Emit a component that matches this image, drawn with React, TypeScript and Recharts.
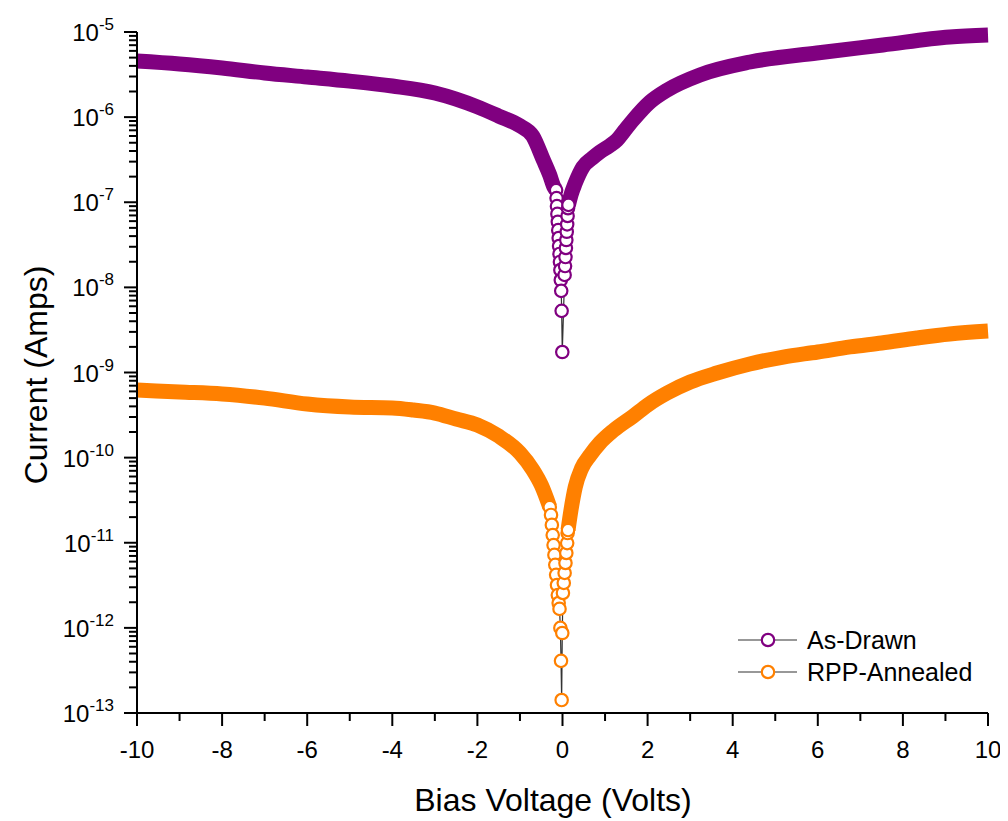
import { ComposedChart, Line, XAxis, YAxis } from "recharts";

const PURPLE = "#800080";
const ORANGE = "#ff8000";
const FONT = "'Liberation Sans', Arial, sans-serif";

// As-Drawn: negative branch, dip around 0 V, positive branch
const drawnLeftV = [-10, -9, -8, -7, -6, -5, -4, -3, -2, -1.5, -1, -0.7, -0.45, -0.3, -0.2, -0.15];
const drawnLeftI = [4.56e-6, 4.21e-6, 3.77e-6, 3.3e-6, 2.96e-6, 2.65e-6, 2.32e-6, 1.92e-6, 1.32e-6, 1.03e-6, 7.9e-7, 6.0e-7, 3.13e-7, 2.09e-7, 1.51e-7, 1.39e-7];
const drawnTipV = [-0.15, -0.14, -0.13, -0.12, -0.11, -0.1, -0.09, -0.08, -0.07, -0.06, -0.05, -0.04, -0.03, -0.02, -0.005, 0.05, 0.06, 0.07, 0.08, 0.09, 0.1, 0.11, 0.12, 0.13, 0.14];
const drawnTipI = [1.39e-7, 1.12e-7, 9.0e-8, 7.3e-8, 5.9e-8, 4.7e-8, 3.8e-8, 3.06e-8, 2.47e-8, 1.99e-8, 1.6e-8, 1.22e-8, 9.1e-9, 5.3e-9, 1.74e-9, 1.4e-8, 1.78e-8, 2.27e-8, 2.9e-8, 3.6e-8, 4.5e-8, 5.5e-8, 6.9e-8, 8.5e-8, 9.3e-8];
const drawnRightV = [0.14, 0.2, 0.3, 0.48, 0.7, 0.88, 1.1, 1.28, 1.45, 1.66, 2.06, 2.46, 3.23, 4.41, 5.98, 7.53, 9.1, 10];
const drawnRightI = [9.3e-8, 1.22e-7, 1.68e-7, 2.6e-7, 3.3e-7, 3.9e-7, 4.58e-7, 5.39e-7, 6.87e-7, 9.25e-7, 1.51e-6, 2.08e-6, 3.13e-6, 4.44e-6, 5.67e-6, 7.03e-6, 8.73e-6, 9.2e-6];

// RPP-Annealed
const annealLeftV = [-10, -9, -8, -7, -6, -5, -4, -3.5, -3, -2.5, -2, -1.5, -1, -0.7, -0.5, -0.3];
const annealLeftI = [6.22e-10, 5.9e-10, 5.6e-10, 5.0e-10, 4.26e-10, 3.93e-10, 3.83e-10, 3.62e-10, 3.34e-10, 2.84e-10, 2.42e-10, 1.79e-10, 1.13e-10, 7.2e-11, 4.77e-11, 2.63e-11];
const annealTipV = [-0.3, -0.27, -0.25, -0.23, -0.21, -0.19, -0.17, -0.15, -0.13, -0.11, -0.09, -0.07, -0.05, -0.035, -0.02, -0.005, 0.01, 0.03, 0.05, 0.07, 0.09, 0.11, 0.12, 0.13];
const annealTipI = [2.63e-11, 2.12e-11, 1.62e-11, 1.23e-11, 9.4e-12, 7.2e-12, 5.5e-12, 4.2e-12, 3.19e-12, 2.43e-12, 1.96e-12, 1.67e-12, 1.0e-12, 4.1e-13, 1.42e-13, 8.7e-13, 2.57e-12, 3.37e-12, 4.42e-12, 5.78e-12, 7.58e-12, 9.9e-12, 1.3e-11, 1.41e-11];
const annealRightV = [0.13, 0.2, 0.3, 0.45, 0.65, 0.88, 1.2, 1.66, 2, 2.46, 3, 3.63, 4.4, 5.19, 6, 6.76, 7.5, 8.33, 9.1, 10];
const annealRightI = [1.41e-11, 2.43e-11, 4.52e-11, 7.5e-11, 1.07e-10, 1.49e-10, 2.09e-10, 3.07e-10, 4.15e-10, 5.74e-10, 7.73e-10, 9.86e-10, 1.26e-9, 1.52e-9, 1.74e-9, 2.0e-9, 2.22e-9, 2.54e-9, 2.83e-9, 3.07e-9];

const voltTicks = [-10, -9, -8, -7, -6, -5, -4, -3, -2, -1, 0, 1, 2, 3, 4, 5, 6, 7, 8, 9, 10];
const decades = [-13, -12, -11, -10, -9, -8, -7, -6, -5];
const minorSteps = [2, 3, 4, 5, 6, 7, 8, 9];

const rows = (v: number[], i: number[]) => v.map((x, k) => ({ v: x, i: i[k] }));

// decade ticks plus the 2..9 minor ticks between them
const currentTicks: number[] = [];
decades.forEach((d, k) => {
  currentTicks.push(Math.pow(10, d));
  if (k < decades.length - 1) minorSteps.forEach((m) => currentTicks.push(m * Math.pow(10, d)));
});

const series = [
  { name: "As-Drawn", color: PURPLE, left: rows(drawnLeftV, drawnLeftI), tip: rows(drawnTipV, drawnTipI), right: rows(drawnRightV, drawnRightI) },
  { name: "RPP-Annealed", color: ORANGE, left: rows(annealLeftV, annealLeftI), tip: rows(annealTipV, annealTipI), right: rows(annealRightV, annealRightI) },
];

function YTick({ x, y, payload }: any) {
  const e = Math.log10(payload.value);
  const major = Math.abs(e - Math.round(e)) < 1e-6;
  return (
    <g>
      <line x1={x} x2={x - (major ? 13 : 8)} y1={y} y2={y} stroke="#000" strokeWidth={2} />
      {major && (
        <text x={x - 23} y={y + 9} textAnchor="end" fontSize={24} fontFamily={FONT} fill="#000">
          10
          <tspan fontSize={17} dy={-11}>{Math.round(e)}</tspan>
        </text>
      )}
    </g>
  );
}

function XTick({ x, y, payload }: any) {
  const major = payload.value % 2 === 0;
  return (
    <g>
      <line x1={x} x2={x} y1={y} y2={y + (major ? 13 : 8)} stroke="#000" strokeWidth={2} />
      {major && (
        <text x={x} y={y + 45} textAnchor="middle" fontSize={24} fontFamily={FONT} fill="#000">
          {payload.value}
        </text>
      )}
    </g>
  );
}

export default function App() {
  return (
    <div style={{ fontFamily: FONT }}>
      <ComposedChart width={1000} height={813} margin={{ top: 24, right: 20, bottom: 48, left: 69 }}>
        <XAxis
          type="number"
          dataKey="v"
          domain={[-10, 10]}
          ticks={voltTicks}
          interval={0}
          height={60}
          tickSize={0}
          tickMargin={0}
          tickLine={false}
          axisLine={{ stroke: "#000", strokeWidth: 2 }}
          tick={(p: any) => <XTick {...p} />}
        />
        <YAxis
          type="number"
          dataKey="i"
          scale="log"
          domain={[1e-13, 1e-5]}
          ticks={currentTicks}
          interval={0}
          width={60}
          tickSize={0}
          tickMargin={0}
          tickLine={false}
          axisLine={{ stroke: "#000", strokeWidth: 2 }}
          tick={(p: any) => <YTick {...p} />}
        />
        {/* dense sweep drawn as a wide band, the sparse points near 0 V as open circles */}
        {series.flatMap((s) => [
          <Line key={s.name + "-l"} data={s.left} dataKey="i" type="monotone" stroke={s.color} strokeWidth={15} dot={false} isAnimationActive={false} />,
          <Line key={s.name + "-r"} data={s.right} dataKey="i" type="monotone" stroke={s.color} strokeWidth={15} dot={false} isAnimationActive={false} />,
          <Line
            key={s.name + "-t"}
            data={s.tip}
            dataKey="i"
            type="linear"
            stroke="#333"
            strokeWidth={1.2}
            dot={{ r: 6.2, stroke: s.color, strokeWidth: 2.2, fill: "#fff" }}
            isAnimationActive={false}
          />,
        ])}
        <text x={545} y={803} textAnchor="middle" fontSize={32} fontFamily={FONT} fill="#000">
          Bias Voltage (Volts)
        </text>
        <text x={39} y={367} textAnchor="middle" fontSize={32} fontFamily={FONT} fill="#000" transform="rotate(-90, 39, 367)">
          Current (Amps)
        </text>
        {series.map((s, k) => (
          <g key={s.name}>
            <line x1={730} x2={789} y1={632 + k * 32} y2={632 + k * 32} stroke="#333" strokeWidth={1.2} />
            <circle cx={760} cy={632 + k * 32} r={6.2} stroke={s.color} strokeWidth={2.2} fill="#fff" />
            <text x={799} y={641 + k * 32} fontSize={25} fontFamily={FONT} fill="#000">
              {s.name}
            </text>
          </g>
        ))}
      </ComposedChart>
    </div>
  );
}
